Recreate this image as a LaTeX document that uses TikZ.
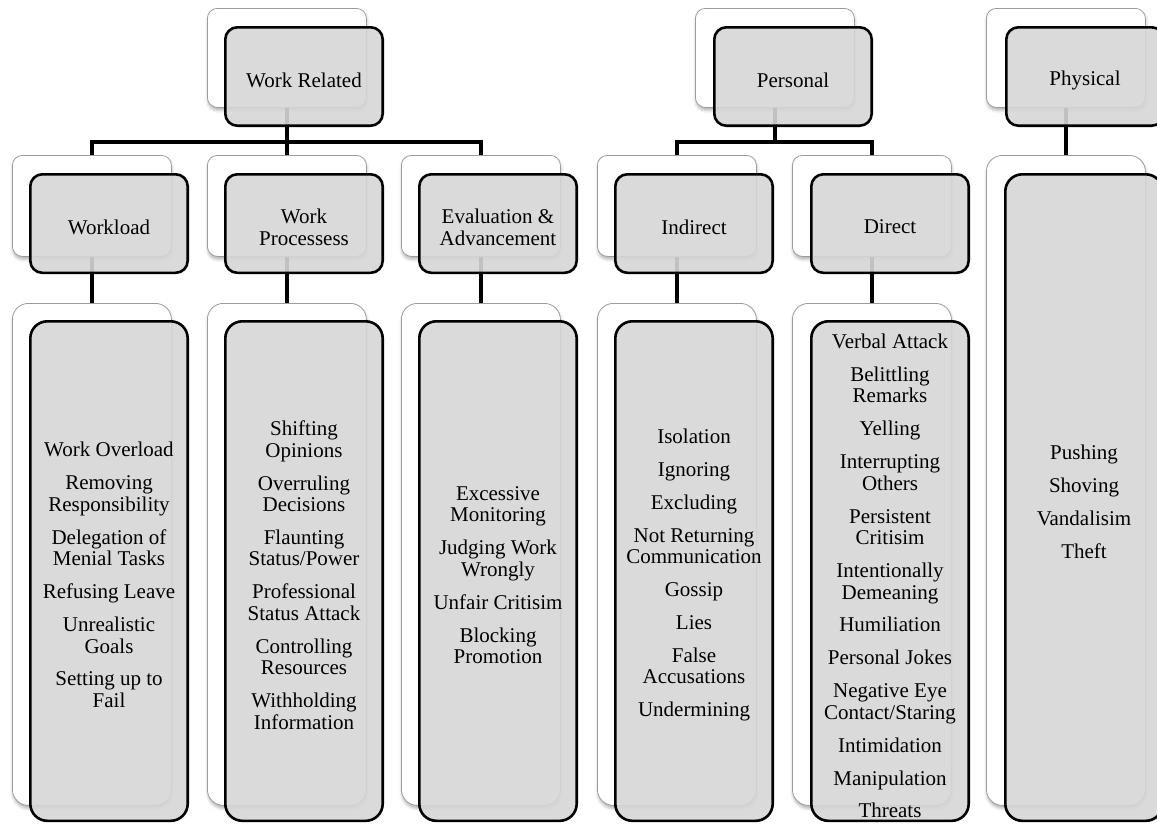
\documentclass[tikz,border=0pt]{standalone}
\usepackage{fontspec}
\setmainfont{Liberation Serif}
\usetikzlibrary{shadows.blur}
\definecolor{boxgrey}{HTML}{D6D6D6}
\definecolor{edgegrey}{HTML}{9C9C9C}
\tikzset{
  backbox/.style={draw=edgegrey, line width=0.8pt, fill=white, rounded corners=10pt,
    minimum width=159pt, minimum height=99pt, inner sep=0pt, anchor=north west,
    blur shadow={shadow xshift=0.5pt, shadow yshift=-3pt, shadow blur radius=3pt, shadow opacity=30}},
  frontbox/.style={draw=black, line width=2.6pt, fill=boxgrey, fill opacity=0.9,
    rounded corners=12pt, minimum width=157.4pt, minimum height=98.4pt, inner sep=0pt,
    anchor=north west},
  midback/.style={backbox, minimum height=101pt},
  midfront/.style={frontbox, minimum height=98.5pt},
  leafback/.style={backbox, rounded corners=16pt, minimum height=502pt},
  leaffront/.style={frontbox, rounded corners=17pt, minimum height=499.5pt},
  physback/.style={backbox, rounded corners=16pt, minimum height=650pt},
  physfront/.style={frontbox, rounded corners=17pt, minimum height=646.5pt},
  boxtext/.style={align=center, inner sep=0pt, font=\fontsize{21}{22}\selectfont},
  leaftext/.style={align=center, inner sep=0pt, font=\fontsize{21}{21.5}\selectfont},
  conn/.style={line width=4.6pt, line join=miter},
}
\newcommand{\gp}{\\[11.4pt]}
\begin{document}
\begin{tikzpicture}[x=1pt, y=-1pt]
\useasboundingbox (0,0) rectangle (1157,823);
% ---------- back boxes ----------
\node[backbox] (wrB) at (207,8) {};
\node[backbox] (peB) at (695,8) {};
\node[backbox] (phB) at (986,8) {};
\node[midback] (wlB) at (12,155) {};
\node[midback] (wpB) at (207,155) {};
\node[midback] (eaB) at (401,155) {};
\node[midback] (inB) at (597,155) {};
\node[midback] (diB) at (792,155) {};
\node[leafback] (wlLB) at (12,303) {};
\node[leafback] (wpLB) at (207,303) {};
\node[leafback] (eaLB) at (401,303) {};
\node[leafback] (inLB) at (597,303) {};
\node[leafback] (diLB) at (792,303) {};
\node[physback] (phLB) at (986,155) {};
% ---------- connectors ----------
\draw[conn] (wrB.south) -- ++(0,34) coordinate (wrBar);
\draw[conn] (wlB.north) |- (wrBar) -| (eaB.north);
\draw[conn] (wrBar) -- (wpB.north);
\draw[conn] (peB.south) -- ++(0,34) coordinate (peBar);
\draw[conn] (inB.north) |- (peBar) -| (diB.north);
\draw[conn] (phB.south) -- (phLB.north);
\draw[conn] (wlB.south) -- (wlLB.north);
\draw[conn] (wpB.south) -- (wpLB.north);
\draw[conn] (eaB.south) -- (eaLB.north);
\draw[conn] (inB.south) -- (inLB.north);
\draw[conn] (diB.south) -- (diLB.north);
% ---------- front boxes ----------
\node[frontbox] (wrF) at (224,26) {};
\node[frontbox] (peF) at (713,26) {};
\node[frontbox] (phF) at (1005,26) {};
\node[midfront] (wlF) at (29,173) {};
\node[midfront] (wpF) at (224,173) {};
\node[midfront] (eaF) at (418,173) {};
\node[midfront] (inF) at (614,173) {};
\node[midfront] (diF) at (810,173) {};
\node[leaffront] (wlLF) at (29,320) {};
\node[leaffront] (wpLF) at (224,320) {};
\node[leaffront] (eaLF) at (418,320) {};
\node[leaffront] (inLF) at (614,320) {};
\node[leaffront] (diLF) at (810,320) {};
\node[physfront] (phLF) at (1004,173) {};
% ---------- box texts ----------
\node[boxtext] (wrT) at ([yshift=-3.5pt]wrF.center) {Work Related};
\node[boxtext] (peT) at ([yshift=-3.5pt]peF.center) {Personal};
\node[boxtext] (phT0) at ([yshift=-3.5pt]phF.center) {Physical};
\node[boxtext] (wlT0) at ([yshift=-3.5pt]wlF.center) {Workload};
\node[boxtext] (wpT0) at ([yshift=-3.5pt]wpF.center) {Work\\Processess};
\node[boxtext] (eaT0) at ([yshift=-3.5pt]eaF.center) {Evaluation \&\\Advancement};
\node[boxtext] (inT0) at ([yshift=-3.5pt]inF.center) {Indirect};
\node[boxtext] (diT0) at ([yshift=-3.5pt]diF.center) {Direct};
% ---------- leaf texts ----------
\node[leaftext] (wlT) at ([yshift=-4pt]wlLF.center) {Work Overload\gp Removing\\Responsibility\gp Delegation of\\Menial Tasks\gp Refusing Leave\gp Unrealistic\\Goals\gp Setting up to\\Fail};
\node[leaftext] (wpT) at ([yshift=-4pt]wpLF.center) {Shifting\\Opinions\gp Overruling\\Decisions\gp Flaunting\\Status/Power\gp Professional\\Status Attack\gp Controlling\\Resources\gp Withholding\\Information};
\node[leaftext] (eaT) at ([yshift=-4pt]eaLF.center) {Excessive\\Monitoring\gp Judging Work\\Wrongly\gp Unfair Critisim\gp Blocking\\Promotion};
\node[leaftext] (inT) at ([yshift=-4pt]inLF.center) {Isolation\gp Ignoring\gp Excluding\gp Not Returning\\Communication\gp Gossip\gp Lies\gp False\\Accusations\gp Undermining};
\node[leaftext] (diT) at ([yshift=-5pt]diLF.center) {Verbal Attack\gp Belittling\\Remarks\gp Yelling\gp Interrupting\\Others\gp Persistent\\Critisim\gp Intentionally\\Demeaning\gp Humiliation\gp Personal Jokes\gp Negative Eye\\Contact/Staring\gp Intimidation\gp Manipulation\gp Threats};
\node[leaftext] (phT) at ([yshift=-4pt]phLF.center) {Pushing\gp Shoving\gp Vandalisim\gp Theft};
\end{tikzpicture}
\end{document}
